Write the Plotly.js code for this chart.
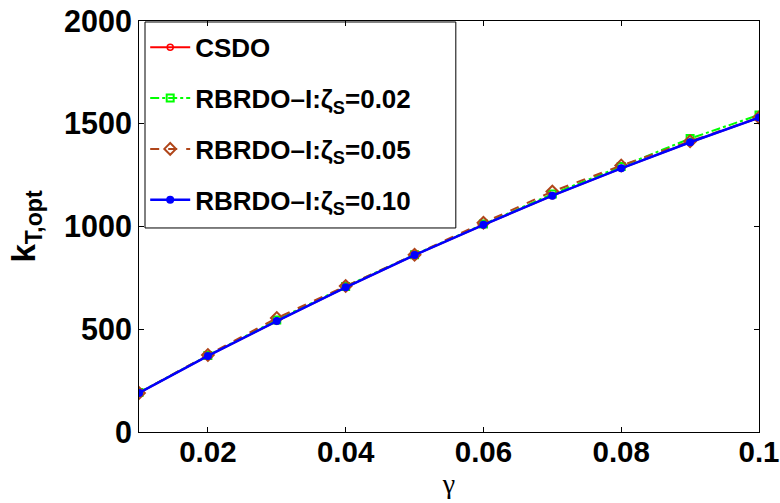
<!DOCTYPE html>
<html>
<head>
<meta charset="utf-8">
<script src="https://cdn.plot.ly/plotly-3.0.1.min.js"></script>
<style>html,body{margin:0;padding:0;background:#fff;}</style>
</head>
<body>
<div id="chart" style="width:780px;height:503px;"></div>
<script>
const gamma = [0.01, 0.02, 0.03, 0.04, 0.05, 0.06, 0.07, 0.08, 0.09, 0.10];
const csdo   = [190, 370, 540, 704, 861, 1008, 1150, 1283, 1410, 1530];
const rb002  = [192, 372, 545, 708, 863, 1012, 1158, 1292, 1428, 1543];
const rb005  = [190, 375, 555, 710, 862, 1018, 1170, 1297, 1415, 1530];
const rb010  = [190, 370, 540, 704, 861, 1008, 1150, 1283, 1410, 1530];
const names = ['CSDO', 'RBRDO–I:ζ<sub>S</sub>=0.02', 'RBRDO–I:ζ<sub>S</sub>=0.05', 'RBRDO–I:ζ<sub>S</sub>=0.10'];
const xTicks = [0.02, 0.04, 0.06, 0.08, 0.1];
const xTickText = ['0.02', '0.04', '0.06', '0.08', '0.1'];
const yTicks = [0, 500, 1000, 1500, 2000];

const traces = [
  {x: gamma, y: csdo, name: names[0], mode: 'lines+markers', legendgroup: 'a',
   line: {color: '#ff0000', width: 2, dash: 'solid'},
   marker: {symbol: 'circle-open', size: 6, color: '#ff0000', line: {width: 1.5}}},
  {x: gamma, y: rb002, name: names[1], mode: 'lines+markers', legendgroup: 'b',
   line: {color: '#00ff00', width: 2, dash: 'dashdot'},
   marker: {symbol: 'square-open', size: 7, color: '#00ff00', line: {width: 2}}},
  {x: gamma, y: rb005, name: names[2], mode: 'lines+markers', legendgroup: 'c',
   line: {color: '#b0461a', width: 2, dash: 'dash'},
   marker: {symbol: 'diamond-open', size: 9, color: '#b0461a', line: {width: 2}}},
  {x: gamma, y: rb010, name: names[3], mode: 'lines+markers', legendgroup: 'd',
   line: {color: '#0000ff', width: 2.5, dash: 'solid'},
   marker: {symbol: 'circle', size: 8, color: '#0000ff'}}
];

const layout = {
  width: 780, height: 503,
  margin: {l: 139, r: 21, t: 21, b: 71, pad: 0},
  paper_bgcolor: '#fff', plot_bgcolor: '#fff',
  font: {family: 'Liberation Sans, Arial, sans-serif', color: '#000'},
  showlegend: true,
  legend: {
    x: 0.01, y: 0.993, xanchor: 'left', yanchor: 'top',
    bgcolor: 'rgba(0,0,0,0)', borderwidth: 0,
    font: {size: 26, family: 'Liberation Sans, Arial, sans-serif', color: '#000', weight: 'bold'},
    traceorder: 'grouped', tracegroupgap: 14, itemwidth: 40
  },
  shapes: [{
    type: 'rect', xref: 'paper', yref: 'paper', layer: 'below',
    x0: 0.0097, x1: 0.511, y0: 0.4964, y1: 0.9976,
    fillcolor: '#fff', line: {color: '#000', width: 1}
  }],
  xaxis: {
    range: [0.01, 0.1], tickvals: xTicks, ticktext: xTickText,
    ticks: 'inside', ticklen: 5, tickcolor: '#000', tickwidth: 1,
    showline: true, linecolor: '#000', linewidth: 1, mirror: 'ticks',
    showgrid: false, zeroline: false, automargin: false, ticklabeloverflow: 'allow',
    ticklabelstandoff: -6,
    tickfont: {size: 29.5, family: 'Liberation Sans, Arial, sans-serif', weight: 'bold'},
    title: {text: 'γ', font: {size: 28, family: 'Liberation Serif, Times New Roman, serif'}, standoff: 0}
  },
  yaxis: {
    range: [0, 2000], tickvals: yTicks,
    ticks: 'inside', ticklen: 5, tickcolor: '#000', tickwidth: 1,
    showline: true, linecolor: '#000', linewidth: 1, mirror: 'ticks',
    showgrid: false, zeroline: false, automargin: false, ticklabeloverflow: 'allow',
    tickfont: {size: 30.5, family: 'Liberation Sans, Arial, sans-serif', weight: 'bold'},
    title: {text: 'k<sub>T,opt</sub>', font: {size: 33, family: 'Liberation Sans, Arial, sans-serif', weight: 'bold'}, standoff: 18}
  }
};

Plotly.newPlot('chart', traces, layout, {displayModeBar: false, staticPlot: true});
</script>
</body>
</html>
